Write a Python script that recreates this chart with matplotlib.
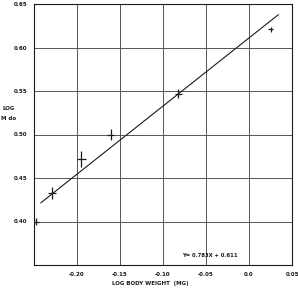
import matplotlib.pyplot as plt
import numpy as np

# measured points (log body weight, log M do) with error bars
log_weight = [-0.248, -0.229, -0.195, -0.161, -0.082, 0.025]
log_mdo = [0.400, 0.433, 0.472, 0.500, 0.547, 0.621]
x_err = [0.004, 0.005, 0.005, 0.004, 0.004, 0.003]
y_err = [0.004, 0.007, 0.009, 0.006, 0.005, 0.003]

slope = 0.783
intercept = 0.611
fit_range = [-0.242, 0.034]

x_ticks = [-0.20, -0.15, -0.10, -0.05, 0.0, 0.05]
x_tick_labels = ["-0.20", "-0.15", "-0.10", "-0.05", "0.0", "0.05"]
y_ticks = [0.40, 0.45, 0.50, 0.55, 0.60, 0.65]
y_tick_labels = ["0.40", "0.45", "0.50", "0.55", "0.60", "0.65"]

ink = "#1a1a1a"
grid_c = "#555555"

fig = plt.figure(figsize=(2.98, 2.91), dpi=100)
fig.patch.set_facecolor("white")
ax = fig.add_axes([34 / 298, 1 - 265 / 291, (292 - 34) / 298, (265 - 4) / 291])

ax.set_xlim(-0.25, 0.05)
ax.set_ylim(0.35, 0.65)

# grid every 0.05
for gx in np.arange(-0.20, 0.05, 0.05):
    ax.axvline(gx, color=grid_c, linewidth=0.7, zorder=1)
for gy in np.arange(0.40, 0.65, 0.05):
    ax.axhline(gy, color=grid_c, linewidth=0.7, zorder=1)

ax.errorbar(log_weight, log_mdo, xerr=x_err, yerr=y_err, fmt="none",
            ecolor=ink, elinewidth=0.9, capsize=0, zorder=3)

fx = np.array(fit_range)
ax.plot(fx, slope * fx + intercept, color=ink, linewidth=0.8, zorder=2)

ax.text(-0.078, 0.361, "Y= 0.783X + 0.611", fontsize=3.8, color=ink,
        ha="left", va="center", fontweight="bold")

ax.set_xticks(x_ticks)
ax.set_xticklabels(x_tick_labels)
ax.set_yticks(y_ticks)
ax.set_yticklabels(y_tick_labels)
ax.tick_params(length=0, labelsize=4, colors=ink, pad=5)
for lab in ax.get_xticklabels() + ax.get_yticklabels():
    lab.set_fontweight("bold")

for sp in ax.spines.values():
    sp.set_color(ink)
    sp.set_linewidth(0.8)

fig.text(150 / 298, 1 - 283 / 291, "LOG BODY WEIGHT  (MG)", fontsize=4,
         ha="center", va="center", color=ink, fontweight="bold")
fig.text(9 / 298, 1 - 108 / 291, "LOG", fontsize=4, ha="center", va="center",
         color=ink, fontweight="bold")
fig.text(9 / 298, 1 - 119 / 291, "M do", fontsize=4, ha="center", va="center",
         color=ink, fontweight="bold")

plt.savefig("out.png", dpi=100, facecolor="white")
plt.close(fig)
